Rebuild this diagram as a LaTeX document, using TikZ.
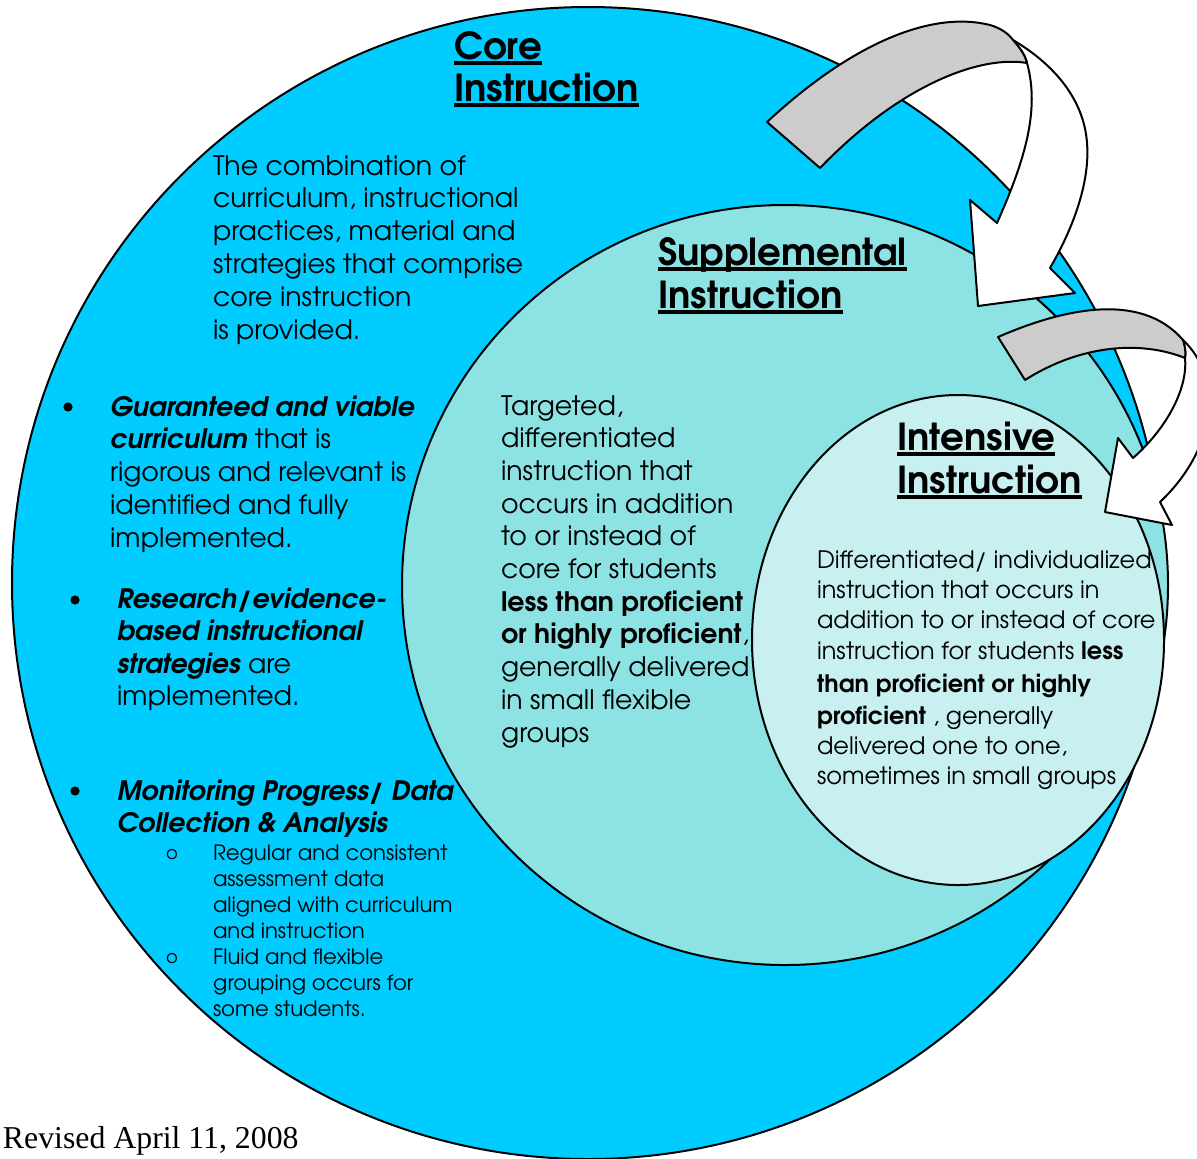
\documentclass[tikz,border=0pt]{standalone}
\usepackage{fontspec}
\setmainfont{texgyreadventor}[Extension=.otf, UprightFont=*-regular, BoldFont=*-bold, ItalicFont=*-italic, BoldItalicFont=*-bolditalic]
\newfontfamily\timesfont{Liberation Serif}
\definecolor{corecol}{RGB}{0,204,255}
\definecolor{suppcol}{RGB}{141,227,227}
\definecolor{intcol}{RGB}{200,240,240}
\definecolor{bandgray}{RGB}{204,204,204}
\newcommand\myul[1]{\setbox0=\hbox{#1}\rlap{\rule[-2.8pt]{\wd0}{1.8pt}}\box0}
\newcommand\Lines[2]{\vtop{\baselineskip=#1\lineskiplimit=-30pt\relax #2}}
\newcommand\Lbox[1]{\hbox{#1}}
\tikzset{
  circ/.style={draw=black, line width=1pt},
  band/.style={draw=black, line width=1pt, line join=round},
  txt/.style={anchor=base west, inner sep=0pt, outer sep=0pt, align=left},
  body/.style={txt, font=\fontsize{13.4}{16.4}\selectfont},
  small/.style={txt, font=\fontsize{12}{15}\selectfont},
  tiny/.style={txt, font=\fontsize{10.6}{13}\selectfont},
  ttl/.style={txt, font=\bfseries\fontsize{18.6}{21.5}\selectfont},
  dotb/.style={circle, fill=black, inner sep=0pt, minimum size=4.6pt},
  subo/.style={inner sep=0pt, font=\fontsize{9}{10}\selectfont}
}
\begin{document}
\begin{tikzpicture}[x=0.5pt,y=-0.5pt]
\useasboundingbox (0,0) rectangle (1197,1158);
\begin{scope}
\clip (0,0) rectangle (1197,1158);
% circles
\draw[circ, fill=corecol] (588,583) ellipse [x radius=288pt, y radius=288pt];
\draw[circ, fill=suppcol] (785,585) ellipse [x radius=191.5pt, y radius=190pt];
\draw[circ, fill=intcol] (958,640) ellipse [x radius=103pt, y radius=122.5pt];
% arrow 1: white front band
\draw[band, fill=white] (1027,63) .. controls (1040,110) and (1025,160) .. (997,223)
  -- (970,200) -- (978,306) -- (1075,293) -- (1050,268)
  .. controls (1075,225) and (1090,180) .. (1087,143)
  .. controls (1084,100) and (1055,65) .. (1013,40)
  .. controls (1020,48) and (1025,55) .. (1027,63) -- cycle;
% arrow 1: gray back band
\draw[band, fill=bandgray] (767,122) .. controls (850,45) and (930,10) .. (990,25)
  .. controls (1000,28) and (1008,33) .. (1013,40)
  .. controls (1020,48) and (1025,55) .. (1027,63)
  .. controls (980,55) and (900,85) .. (820,168) -- cycle;
% arrow 2: white front band
\draw[band, fill=white] (1185,358) .. controls (1188,390) and (1165,430) .. (1133,458)
  -- (1118,438) -- (1105,512) -- (1172,525) -- (1160,502)
  .. controls (1215,450) and (1225,380) .. (1183,340)
  .. controls (1185,347) and (1186,352) .. (1185,358) -- cycle;
% arrow 2: gray back band
\draw[band, fill=bandgray] (998,337) .. controls (1060,310) and (1140,290) .. (1183,340)
  .. controls (1185,347) and (1186,352) .. (1185,358)
  .. controls (1140,340) and (1080,345) .. (1025,380) -- cycle;
\end{scope}

% titles
\node[ttl] (coreT) at (454,59) {\Lines{21pt}{\Lbox{\myul{Core}}\Lbox{\myul{Instruction}}}};
\node[ttl] (suppT) at (658,265) {\Lines{21.5pt}{\Lbox{\myul{Supplemental}}\Lbox{\myul{Instruction}}}};
\node[ttl] (intT) at (897,450) {\Lines{21.5pt}{\Lbox{\myul{Intensive}}\Lbox{\myul{Instruction}}}};

% core description
\node[body] (coreB) at (213,175) {\Lines{16.4pt}{%
  \Lbox{The combination of}\Lbox{curriculum, instructional}\Lbox{practices, material and}%
  \Lbox{strategies that comprise}\Lbox{core instruction}\Lbox{is provided.}}};

% bullets
\node[dotb] (d1) at (68,407) {};
\node[body] (b1) at (110,416) {\Lines{16.4pt}{%
  \Lbox{\textbf{\textit{Guaranteed and viable}}}\Lbox{\textbf{\textit{curriculum}} that is}%
  \Lbox{rigorous and relevant is}\Lbox{identified and fully}\Lbox{implemented.}}};
\node[dotb] (d2) at (75,600) {};
\node[body] (b2) at (117,608) {\Lines{16.3pt}{%
  \Lbox{\textbf{\textit{Research/evidence-}}}\Lbox{\textbf{\textit{based instructional}}}%
  \Lbox{\textbf{\textit{strategies}} are}\Lbox{implemented.}}};
\node[dotb] (d3) at (75,791) {};
\node[body] (b3) at (117,800) {\Lines{16pt}{%
  \Lbox{\textbf{\textit{Monitoring Progress/ Data}}}\Lbox{\textbf{\textit{Collection \& Analysis}}}}};
\node[subo] (o1) at (172,855) {o};
\node[tiny] (s1) at (213,860) {\Lines{13pt}{%
  \Lbox{Regular and consistent}\Lbox{assessment data}\Lbox{aligned with curriculum}\Lbox{and instruction}}};
\node[subo] (o2) at (172,959) {o};
\node[tiny] (s2) at (213,964) {\Lines{13pt}{%
  \Lbox{Fluid and flexible}\Lbox{grouping occurs for}\Lbox{some students.}}};

% supplemental description
\node[body] (suppB) at (501,415) {\Lines{16.35pt}{%
  \Lbox{Targeted,}\Lbox{differentiated}\Lbox{instruction that}\Lbox{occurs in addition}%
  \Lbox{to or instead of}\Lbox{core for students}\Lbox{\textbf{less than proficient}}%
  \Lbox{\textbf{or highly proficient},}\Lbox{generally delivered}\Lbox{in small flexible}\Lbox{groups}}};

% intensive description
\node[small] (i1) at (817,568) {Differentiated/ individualized};
\node[small] (i2) at (817,598) {instruction that occurs in};
\node[small] (i3) at (817,628) {addition to or instead of core};
\node[small] (i4) at (817,659) {instruction for students \textbf{less}};
\node[small] (i5) at (817,692) {\textbf{than proficient or highly}};
\node[small] (i6) at (817,724) {\textbf{proficient} , generally};
\node[small] (i7) at (817,754) {delivered one to one,};
\node[small] (i8) at (817,784) {sometimes in small groups};

% revision note
\node[txt, font=\timesfont\fontsize{15.9}{18}\selectfont] (rev) at (3,1148) {Revised April 11, 2008};
\end{tikzpicture}
\end{document}
